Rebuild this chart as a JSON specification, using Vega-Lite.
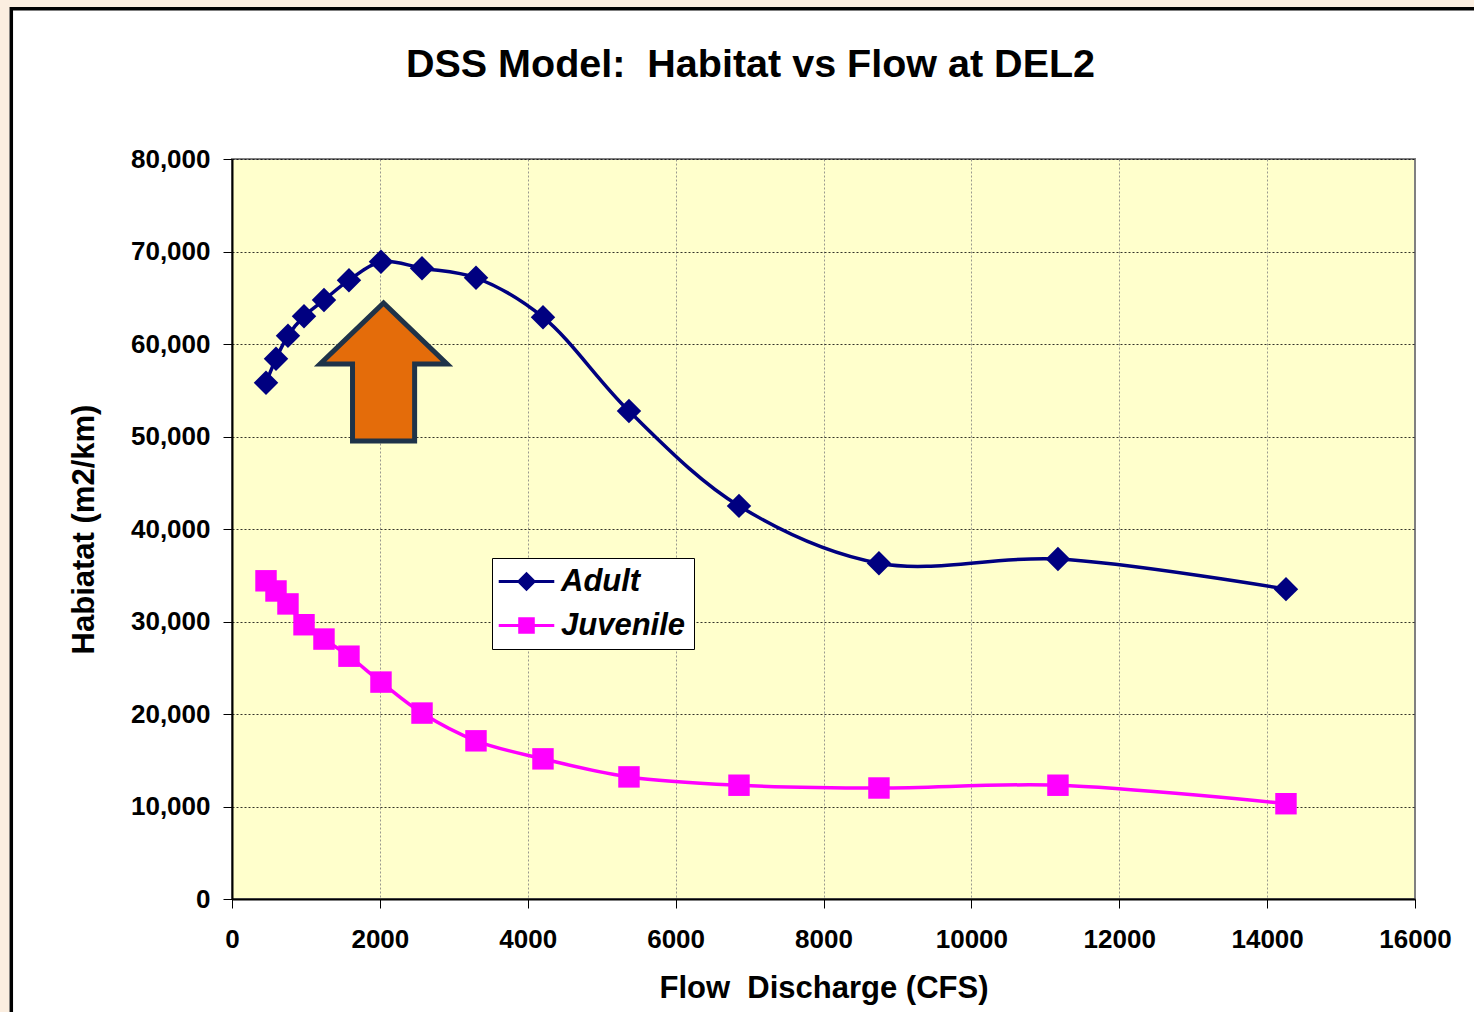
{
  "$schema": "https://vega.github.io/schema/vega-lite/v6.json",
  "width": 1183,
  "height": 740,
  "autosize": {"type": "none"},
  "padding": {"left": 232, "top": 159, "right": 59, "bottom": 113},
  "background": "white",
  "title": {
    "text": "DSS Model:\u00a0 Habitat vs Flow at DEL2",
    "font": "Liberation Sans",
    "fontSize": 39.5,
    "fontWeight": "bold",
    "color": "black",
    "anchor": "middle",
    "frame": "group",
    "dx": -73,
    "offset": 0,
    "dy": 126,
    "baseline": "alphabetic"
  },
  "config": {
    "view": {"fill": "#ffffcc", "stroke": "#808080", "strokeWidth": 2},
    "axis": {
      "labelFont": "Liberation Sans",
      "labelFontWeight": "bold",
      "labelColor": "black",
      "labelFontSize": 26,
      "labelFlush": false,
      "labelOverlap": false,
      "titleFont": "Liberation Sans",
      "titleFontWeight": "bold",
      "titleColor": "black",
      "titleFontSize": 31,
      "domainColor": "black",
      "domainWidth": 2,
      "tickColor": "black",
      "tickWidth": 1,
      "tickSize": 9
    },
    "legend": {
      "orient": "none",
      "legendX": 260,
      "legendY": 399,
      "direction": "vertical",
      "fillColor": "white",
      "strokeColor": "black",
      "padding": 8,
      "symbolSize": 380,
      "symbolOffset": 11,
      "symbolStrokeWidth": 0,
      "symbolOpacity": 1,
      "labelFont": "Liberation Sans",
      "labelFontSize": 31,
      "labelFontWeight": "bold",
      "labelFontStyle": "italic",
      "labelColor": "black",
      "labelOffset": 19,
      "rowPadding": 12
    }
  },
  "datasets": {
    "habitat": [
      {"series": "Adult", "flow": 460, "habitat": 55800},
      {"series": "Adult", "flow": 595, "habitat": 58400},
      {"series": "Adult", "flow": 757, "habitat": 60900},
      {"series": "Adult", "flow": 974, "habitat": 63000},
      {"series": "Adult", "flow": 1244, "habitat": 64750},
      {"series": "Adult", "flow": 1582, "habitat": 66900},
      {"series": "Adult", "flow": 2015, "habitat": 68900},
      {"series": "Adult", "flow": 2570, "habitat": 68200},
      {"series": "Adult", "flow": 3300, "habitat": 67150},
      {"series": "Adult", "flow": 4206, "habitat": 62900},
      {"series": "Adult", "flow": 5369, "habitat": 52750},
      {"series": "Adult", "flow": 6857, "habitat": 42500},
      {"series": "Adult", "flow": 8750, "habitat": 36300},
      {"series": "Adult", "flow": 11171, "habitat": 36750},
      {"series": "Adult", "flow": 14255, "habitat": 33500},
      {"series": "Juvenile", "flow": 460, "habitat": 34400},
      {"series": "Juvenile", "flow": 595, "habitat": 33300},
      {"series": "Juvenile", "flow": 757, "habitat": 31900},
      {"series": "Juvenile", "flow": 974, "habitat": 29650},
      {"series": "Juvenile", "flow": 1244, "habitat": 28100},
      {"series": "Juvenile", "flow": 1582, "habitat": 26250},
      {"series": "Juvenile", "flow": 2015, "habitat": 23450},
      {"series": "Juvenile", "flow": 2570, "habitat": 20100},
      {"series": "Juvenile", "flow": 3300, "habitat": 17100},
      {"series": "Juvenile", "flow": 4206, "habitat": 15150},
      {"series": "Juvenile", "flow": 5369, "habitat": 13200},
      {"series": "Juvenile", "flow": 6857, "habitat": 12300},
      {"series": "Juvenile", "flow": 8750, "habitat": 12000},
      {"series": "Juvenile", "flow": 11171, "habitat": 12300},
      {"series": "Juvenile", "flow": 14255, "habitat": 10300}
    ],
    "arrow": [{"flow": 2050, "habitat": 56970}],
    "frame": [{"x1": -2985, "x2": 22000, "y1": 96250, "y2": -25000}],
    "edge": [{"x1": -3138, "x2": 22000, "y1": 97190, "y2": -25000}]
  },
  "layer": [
    {
      "data": {"name": "edge"},
      "mark": {"type": "rect", "fill": null, "stroke": "#fbeee0", "strokeWidth": 19, "clip": false},
      "encoding": {
        "x": {"field": "x1", "type": "quantitative", "scale": {"domain": [0, 16000]}},
        "x2": {"field": "x2"},
        "y": {"field": "y1", "type": "quantitative", "scale": {"domain": [0, 80000]}},
        "y2": {"field": "y2"}
      }
    },
    {
      "data": {"name": "frame"},
      "mark": {"type": "rect", "fill": null, "stroke": "black", "strokeWidth": 3.5, "clip": false},
      "encoding": {
        "x": {"field": "x1", "type": "quantitative"},
        "x2": {"field": "x2"},
        "y": {"field": "y1", "type": "quantitative"},
        "y2": {"field": "y2"}
      }
    },
    {
      "data": {"name": "habitat"},
      "mark": {"type": "point", "filled": true, "opacity": 0},
      "encoding": {
        "x": {"field": "flow", "type": "quantitative"},
        "y": {"field": "habitat", "type": "quantitative"},
        "color": {
          "field": "series",
          "type": "nominal",
          "title": null,
          "scale": {"domain": ["Adult", "Juvenile"], "range": ["#000080", "#ff00ff"]},
          "legend": {"labelExpr": "datum.label + ' '"}
        },
        "shape": {
          "field": "series",
          "type": "nominal",
          "title": null,
          "scale": {
            "domain": ["Adult", "Juvenile"],
            "range": [
              "M-2.85,-0.16L2.85,-0.16L2.85,0.16L-2.85,0.16ZM0,-1L1,0L0,1L-1,0Z",
              "M-2.85,-0.16L2.85,-0.16L2.85,0.16L-2.85,0.16ZM-0.85,-0.85L0.85,-0.85L0.85,0.85L-0.85,0.85Z"
            ]
          },
          "legend": {"labelExpr": "datum.label + ' '"}
        }
      }
    },
    {
      "data": {"name": "habitat"},
      "mark": {"type": "line", "interpolate": "catmull-rom", "strokeWidth": 3.5},
      "encoding": {
        "x": {
          "field": "flow",
          "type": "quantitative",
          "scale": {"domain": [0, 16000], "nice": false},
          "axis": {
            "title": "Flow\u00a0 Discharge (CFS)",
            "values": [0, 2000, 4000, 6000, 8000, 10000, 12000, 14000, 16000],
            "format": "d",
            "labelPadding": 18,
            "titlePadding": 21,
            "gridColor": "#808080",
            "gridDash": [2, 2],
            "gridWidth": 1,
            "gridOpacity": 0.8
          }
        },
        "y": {
          "field": "habitat",
          "type": "quantitative",
          "scale": {"domain": [0, 80000], "nice": false},
          "axis": {
            "title": "Habiatat (m2/km)",
            "values": [0, 10000, 20000, 30000, 40000, 50000, 60000, 70000, 80000],
            "format": ",d",
            "labelPadding": 13,
            "titlePadding": 30,
            "gridColor": "black",
            "gridDash": [2, 2],
            "gridWidth": 1,
            "gridOpacity": 0.8
          }
        },
        "color": {"field": "series", "type": "nominal", "title": null}
      }
    },
    {
      "data": {"name": "habitat"},
      "transform": [{"filter": "datum.series === 'Adult'"}],
      "mark": {"type": "point", "filled": true, "opacity": 1, "shape": "diamond", "size": 600},
      "encoding": {
        "x": {"field": "flow", "type": "quantitative"},
        "y": {"field": "habitat", "type": "quantitative"},
        "color": {"field": "series", "type": "nominal", "title": null}
      }
    },
    {
      "data": {"name": "habitat"},
      "transform": [{"filter": "datum.series === 'Juvenile'"}],
      "mark": {"type": "point", "filled": true, "opacity": 1, "shape": "square", "size": 460},
      "encoding": {
        "x": {"field": "flow", "type": "quantitative"},
        "y": {"field": "habitat", "type": "quantitative"},
        "color": {"field": "series", "type": "nominal", "title": null}
      }
    },
    {
      "data": {"name": "arrow"},
      "mark": {
        "type": "point",
        "shape": "M0,-1L0.92,-0.116L0.45,-0.116L0.45,1L-0.45,1L-0.45,-0.116L-0.92,-0.116Z",
        "size": 19044,
        "filled": true,
        "fill": "#e46c0a",
        "stroke": "#1f3349",
        "strokeWidth": 5,
        "opacity": 1,
        "strokeJoin": "miter"
      },
      "encoding": {
        "x": {"field": "flow", "type": "quantitative"},
        "y": {"field": "habitat", "type": "quantitative"}
      }
    }
  ]
}
